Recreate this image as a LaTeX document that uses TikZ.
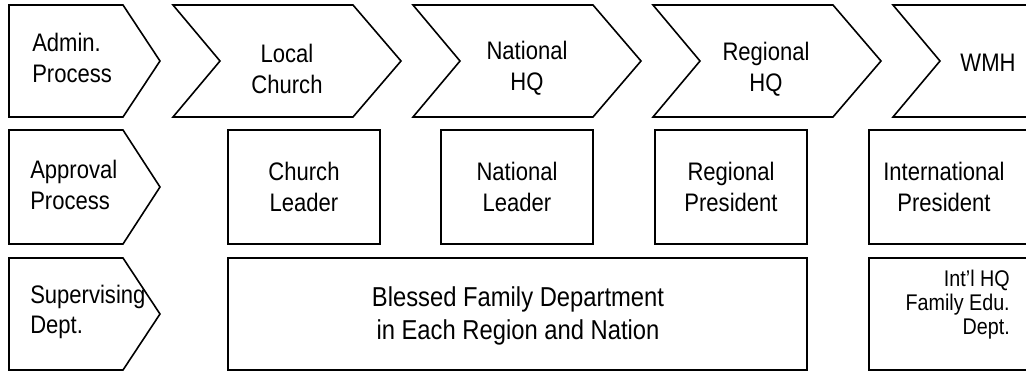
\documentclass[tikz,border=0pt]{standalone}
\usepackage{fontspec}
\setmainfont{Liberation Sans}[FakeStretch=0.87]

\begin{document}
\begin{tikzpicture}[x=0.75pt,y=-0.75pt,line join=miter,
    outline/.style={draw=black,line width=1.2pt},
    lbl/.style={align=center,inner sep=0pt,font=\fontsize{19}{23}\selectfont},
    hdr/.style={lbl,align=left,anchor=west},
    small/.style={lbl,align=right,anchor=east,font=\fontsize{17}{18}\selectfont}]
		\useasboundingbox (0,0) rectangle (1026,372);
		\clip (0,0) rectangle (1026,372);
		%% row headers
		\draw [outline] (9,5) -- (123,5) -- (160,61) -- (123,117) -- (9,117) -- cycle;
		\node (admin) at (32,58) [hdr] {Admin.\\Process};
		\draw [outline] (9,130) -- (123,130) -- (160,187) -- (123,244) -- (9,244) -- cycle;
		\node (approval) at (30,185) [hdr] {Approval\\Process};
		\begin{scope}
		  \clip (9,258) -- (123,258) -- (160,314) -- (123,370) -- (9,370) -- cycle;
		  \node (superv) at (30,312) [hdr] {Supervising\\Dept.};
		\end{scope}
		\draw [outline] (9,258) -- (123,258) -- (160,314) -- (123,370) -- (9,370) -- cycle;
		%% admin. process chevrons
		\draw [outline] (173,5) -- (353,5) -- (401,61) -- (353,117) -- (173,117) -- (220,61) -- cycle;
		\node (church) at (287,69) [lbl] {Local\\Church};
		\draw [outline] (413,5) -- (593,5) -- (641,61) -- (593,117) -- (413,117) -- (460,61) -- cycle;
		\node (nathq) at (527,68) [lbl] {National\\HQ};
		\draw [outline] (653,5) -- (833,5) -- (881,61) -- (833,117) -- (653,117) -- (700,61) -- cycle;
		\node (reghq) at (766,69) [lbl] {Regional\\HQ};
		\draw [outline] (893,5) -- (1073,5) -- (1121,61) -- (1073,117) -- (893,117) -- (940,61) -- cycle;
		\node (wmh) at (988,63) [lbl] {WMH};
		%% approval process
		\draw [outline] (228,130) rectangle (380,244);
		\node (churchldr) at (304,187) [lbl] {Church\\Leader};
		\draw [outline] (441,130) rectangle (593,244);
		\node (natldr) at (517,187) [lbl] {National\\Leader};
		\draw [outline] (655,130) rectangle (807,244);
		\node (regpres) at (731,187) [lbl] {Regional\\President};
		\draw [outline] (869,130) rectangle (1040,244);
		\node (intlpres) at (944,187) [lbl] {International\\President};
		%% supervising dept.
		\draw [outline] (228,258) rectangle (807,370);
		\node (bfd) at (518,316) [lbl,font=\fontsize{20.5}{25}\selectfont] {Blessed Family Department\\in Each Region and Nation};
		\draw [outline] (869,258) rectangle (1040,370);
		\node (intlhq) at (1010,305) [small] {Int’l HQ\\Family Edu.\\Dept.};
		%
\end{tikzpicture}
\end{document}
